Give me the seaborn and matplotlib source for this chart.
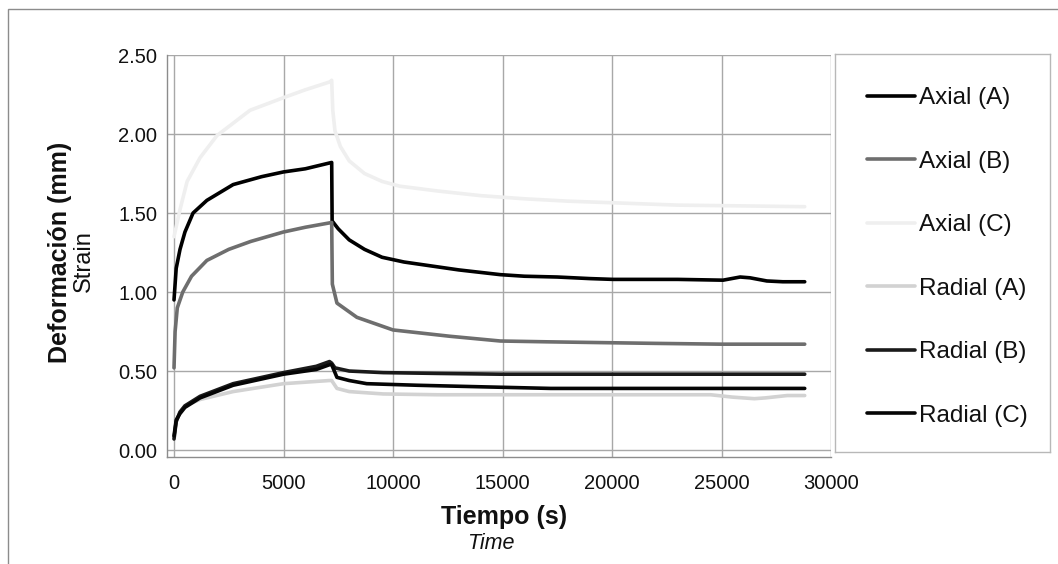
import numpy as np
import pandas as pd
import matplotlib
matplotlib.use("Agg")
import matplotlib.pyplot as plt
from matplotlib.lines import Line2D
from matplotlib.patches import Rectangle
import seaborn as sns

# ---------------- data ----------------
series_names = ["Axial (A)", "Axial (B)", "Axial (C)", "Radial (A)", "Radial (B)", "Radial (C)"]

axial_a_t = [0, 100, 274, 500, 870, 1500, 2700, 4000, 5000, 6000, 7200, 7220, 7500, 8000, 8700,
             9500, 10500, 12000, 13000, 14900, 16000, 17500, 19000, 20050, 21000, 23000, 25070,
             25850, 26300, 27070, 27800, 28800]
axial_a_v = [0.95, 1.15, 1.27, 1.38, 1.50, 1.58, 1.68, 1.73, 1.76, 1.78, 1.82, 1.45, 1.40, 1.33, 1.27,
             1.22, 1.19, 1.16, 1.14, 1.11, 1.10, 1.095, 1.085, 1.08, 1.08, 1.08, 1.075,
             1.095, 1.09, 1.07, 1.065, 1.065]

axial_b_t = [0, 50, 150, 400, 800, 1500, 2500, 3500, 5000, 6000, 7200, 7230, 7440, 8350, 10000,
             12600, 14900, 17000, 19450, 22000, 25000, 28800]
axial_b_v = [0.52, 0.75, 0.90, 1.00, 1.10, 1.20, 1.27, 1.32, 1.38, 1.41, 1.44, 1.05, 0.93, 0.84, 0.76,
             0.72, 0.69, 0.685, 0.68, 0.675, 0.67, 0.67]

axial_c_t = [0, 270, 600, 1190, 1960, 3470, 5000, 6000, 7120, 7200, 7250, 7350, 7600, 8000, 8700,
             9500, 10300, 12000, 14000, 16000, 18000, 20000, 23000, 26000, 28800]
axial_c_v = [1.35, 1.52, 1.70, 1.85, 1.99, 2.15, 2.23, 2.28, 2.33, 2.34, 2.15, 2.02, 1.92, 1.83, 1.75,
             1.70, 1.67, 1.64, 1.61, 1.59, 1.575, 1.565, 1.55, 1.545, 1.54]

radial_a_t = [0, 100, 270, 500, 1190, 2700, 5000, 7100, 7200, 7440, 8000, 9550, 12000, 14900,
              20000, 24500, 25500, 26500, 27000, 28000, 28800]
radial_a_v = [0.08, 0.18, 0.24, 0.28, 0.32, 0.37, 0.42, 0.44, 0.44, 0.39, 0.37, 0.355, 0.35, 0.35,
              0.35, 0.35, 0.335, 0.325, 0.33, 0.345, 0.345]

radial_b_t = [0, 100, 270, 500, 1190, 2700, 5000, 6500, 7100, 7200, 7350, 8000, 9550, 12000,
              14900, 20000, 25000, 28800]
radial_b_v = [0.07, 0.18, 0.24, 0.28, 0.34, 0.42, 0.49, 0.53, 0.56, 0.55, 0.52, 0.50, 0.49, 0.485,
              0.48, 0.48, 0.48, 0.48]

radial_c_t = [0, 100, 270, 500, 1190, 2700, 5000, 6500, 7100, 7200, 7440, 8000, 8800, 11100,
              14100, 17200, 20000, 25000, 28800]
radial_c_v = [0.09, 0.19, 0.23, 0.27, 0.33, 0.41, 0.48, 0.51, 0.54, 0.54, 0.46, 0.44, 0.42, 0.41,
              0.40, 0.39, 0.39, 0.39, 0.39]

x_ticks = [0, 5000, 10000, 15000, 20000, 25000, 30000]
y_ticks = [0.0, 0.5, 1.0, 1.5, 2.0, 2.5]

colors = ["#000000", "#6e6e6e", "#efefef", "#d2d2d2", "#1a1a1a", "#050505"]

all_t = [axial_a_t, axial_b_t, axial_c_t, radial_a_t, radial_b_t, radial_c_t]
all_v = [axial_a_v, axial_b_v, axial_c_v, radial_a_v, radial_b_v, radial_c_v]

frames = []
for name, t, v in zip(series_names, all_t, all_v):
    frames.append(pd.DataFrame({"t": t, "v": v, "serie": name}))
df = pd.concat(frames, ignore_index=True)

# ---------------- style ----------------
sns.set_theme(style="white")
plt.rcParams["font.family"] = ["Liberation Sans", "DejaVu Sans"]

W, H = 1058, 564
fig = plt.figure(figsize=(W / 100, H / 100), dpi=100)
fig.patch.set_facecolor("white")

# outer border
fig.patches.append(Rectangle((8 / W, -0.2), 1.5, 1 - 9 / H + 0.2, transform=fig.transFigure,
                             fill=False, edgecolor="#8c8c8c", linewidth=1.0, zorder=0))

ax_l, ax_r, ax_t, ax_b = 167, 831, 55, 457
ax = fig.add_axes([ax_l / W, 1 - ax_b / H, (ax_r - ax_l) / W, (ax_b - ax_t) / H])

sns.lineplot(data=df, x="t", y="v", hue="serie", palette=dict(zip(series_names, colors)),
             hue_order=series_names, estimator=None, sort=False, linewidth=2.6,
             legend=False, ax=ax)

ax.set_xlim(-320, 30000)
ax.set_ylim(-0.044, 2.5)
ax.set_xticks(x_ticks)
ax.set_yticks(y_ticks)
ax.set_xticklabels([f"{x}" for x in x_ticks], fontsize=14.5)
ax.set_yticklabels([f"{y:.2f}" for y in y_ticks], fontsize=14.5)
ax.grid(True, color="#a8a8a8", linewidth=1.0)
ax.set_axisbelow(True)
for s in ["top", "right"]:
    ax.spines[s].set_visible(False)
for s in ["left", "bottom"]:
    ax.spines[s].set_color("#8c8c8c")
    ax.spines[s].set_linewidth(1.0)
ax.tick_params(axis="y", direction="out", length=5, width=1, color="#8c8c8c", pad=2, labelcolor="#111111")
ax.tick_params(axis="x", direction="out", length=4, width=1, color="#8c8c8c", pad=8, labelcolor="#111111")
ax.set_xlabel("")
ax.set_ylabel("")

# axis titles
fig.text(67 / W, 1 - 252 / H, "Deformación (mm)", rotation=90, rotation_mode="anchor",
         ha="center", va="baseline", fontsize=18, fontweight="bold", color="#111111")
fig.text(90 / W, 1 - 261 / H, "Strain", rotation=90, rotation_mode="anchor",
         ha="center", va="baseline", fontsize=17, color="#111111")
fig.text(504.5 / W, 1 - 524 / H, "Tiempo (s)", ha="center", va="baseline",
         fontsize=18, fontweight="bold", color="#111111")
fig.text(491 / W, 1 - 549 / H, "Time", ha="center", va="baseline",
         fontsize=15.5, fontstyle="italic", color="#111111")

# legend box
lg_l, lg_r, lg_t, lg_b = 835, 1050, 54, 452
ax_leg = fig.add_axes([lg_l / W, 1 - lg_b / H, (lg_r - lg_l) / W, (lg_b - lg_t) / H])
ax_leg.set_xticks([])
ax_leg.set_yticks([])
ax_leg.set_facecolor("white")
for s in ax_leg.spines.values():
    s.set_color("#b8b8b8")
    s.set_linewidth(1.0)
    s.set_visible(True)
handles = [Line2D([0], [0], color=c, linewidth=2.6) for c in colors]
ax_leg.legend(handles, series_names, loc="center left", bbox_to_anchor=(0.149, 0.49),
              frameon=False, fontsize=17.5, labelspacing=1.71, handlelength=1.98,
              handletextpad=0.15, borderpad=0, borderaxespad=0, labelcolor="#111111")

fig.savefig("out.png", dpi=100, facecolor="white")
